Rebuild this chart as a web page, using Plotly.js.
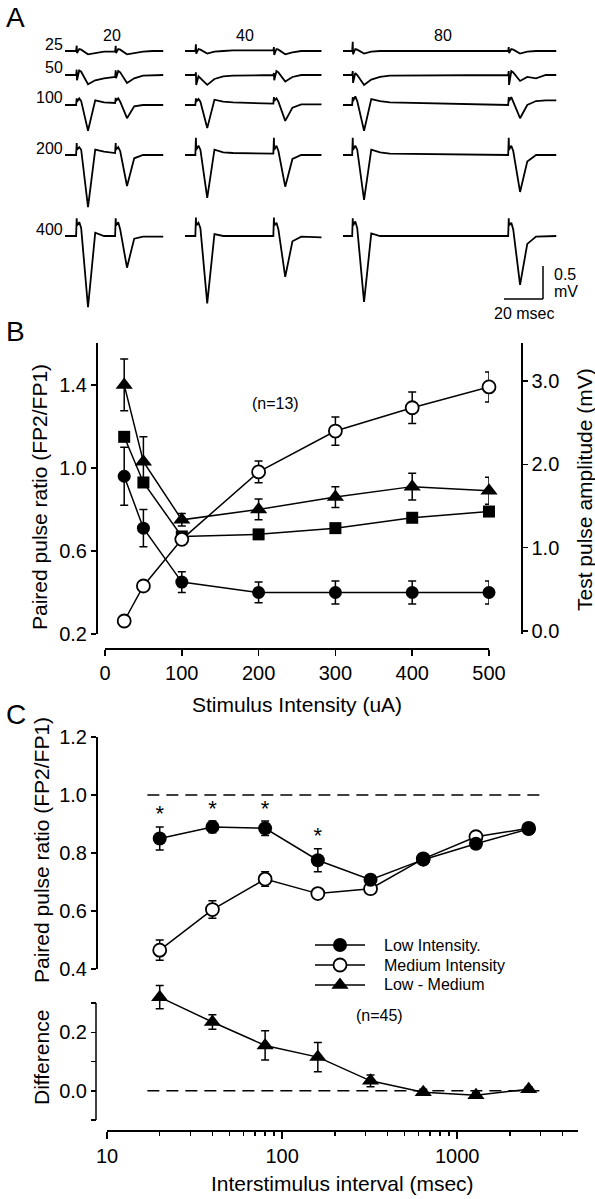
<!DOCTYPE html>
<html><head><meta charset="utf-8">
<script src="https://cdn.plot.ly/plotly-3.0.1.min.js"></script>
<style>html,body{margin:0;padding:0;background:#fff}</style>
</head><body><div id="chart" style="width:595px;height:1199px"></div>
<script>
// ---------- Panel A : field potential traces (mV) ----------
const A_intervals = [20, 40, 80];                 // ms between pulses
const A_intensities = ['25', '50', '100', '200', '400']; // uA
const A_pulseT = [-0.3, 0, 0.15, 1.3, 2.3, 5.8, 9.5, 14, 19]; // ms after each stimulus
// values: 9 for pulse 1, then 9 for pulse 2
const A20_25  = [0,0.08,-0.03,0.03,0.02,-0.05,-0.03,-0.01,-0.01, -0.01,0.08,-0.03,0.03,0.02,-0.05,-0.03,-0.01,0];
const A20_50  = [0,0.08,-0.08,0.07,0.05,-0.14,-0.08,-0.05,-0.03, -0.03,0.07,-0.05,0.06,0.04,-0.12,-0.05,-0.01,0];
const A20_100 = [0,0.10,0.05,0.10,0.06,-0.39,0.07,0.04,0.03, 0.03,0.11,0.06,0.10,0.05,-0.20,-0.02,0,0];
const A20_200 = [0,0.18,0.08,0.12,0.08,-0.79,0.08,0.05,0.03, 0.03,0.18,0.08,0.12,0.06,-0.47,-0.05,0,0];
const A20_400 = [0,0.27,0.16,0.21,0.12,-1.08,0.05,0,0, 0,0.27,0.16,0.21,0.10,-0.48,-0.04,-0.01,-0.01];
const A40_25  = [0,0.10,-0.04,0.03,0.02,-0.04,-0.01,0,0.01, 0.01,0.06,-0.06,0.03,0.02,-0.05,-0.02,0,0];
const A40_50  = [0,0.04,-0.15,-0.02,-0.05,-0.15,-0.06,-0.02,-0.01, 0,0.03,-0.08,0.06,0.04,-0.10,-0.03,0,0];
const A40_100 = [0,0.10,0.05,0.09,0.05,-0.35,0.08,0.05,0.04, 0.02,0.12,0.06,0.10,0.05,-0.24,-0.04,0.01,0.01];
const A40_200 = [0,0.26,0.08,0.14,0.08,-0.65,0.08,0.04,0.03, 0.02,0.26,0.08,0.14,0.06,-0.48,-0.06,0,0];
const A40_400 = [0,0.28,0.16,0.20,0.12,-1.02,0.03,0,0, 0,0.28,0.16,0.20,0.10,-0.62,-0.08,-0.01,-0.02];
const A80_25  = [0,0.14,-0.05,0.03,0.02,-0.04,-0.01,0,0, 0,0.06,-0.03,0.03,0.02,-0.04,-0.01,0,0];
const A80_50  = [0,0.06,-0.12,0.03,0,-0.15,-0.07,-0.03,-0.01, 0,0.06,-0.15,0.06,0.04,-0.09,-0.03,-0.05,0];
const A80_100 = [0,0.12,0.06,0.13,0.06,-0.39,0.09,0.06,0.04, 0,0.12,0.06,0.12,0.05,-0.20,0,0.06,0.07];
const A80_200 = [0,0.26,0.08,0.14,0.08,-0.68,0.08,0.04,0.02, 0,0.26,0.08,0.14,0.06,-0.56,-0.10,0,0];
const A80_400 = [0,0.27,0.16,0.22,0.12,-1.00,0.04,0,0, 0,0.27,0.16,0.20,0.10,-0.74,-0.12,-0.01,0];
const A_scaleMs = 20, A_scaleMv = 0.5;

// ---------- Panel B ----------
const B_intensity = [25, 50, 100, 200, 300, 400, 500];
const B_pprCircle = [0.96, 0.71, 0.45, 0.40, 0.40, 0.40, 0.40];
const B_pprCircleErr = [0.14, 0.09, 0.05, 0.05, 0.055, 0.055, 0.055];
const B_pprTriangle = [1.40, 1.03, 0.75, 0.80, 0.86, 0.91, 0.89];
const B_pprTriangleErr = [0.125, 0.12, 0.03, 0.05, 0.05, 0.065, 0.065];
const B_pprSquare = [1.15, 0.93, 0.67, 0.68, 0.71, 0.76, 0.79];
const B_ampOpen = [0.12, 0.54, 1.10, 1.91, 2.40, 2.68, 2.93];
const B_ampOpenErr = [0.02, 0.03, 0.06, 0.13, 0.17, 0.19, 0.18];

// ---------- Panel C ----------
const C_interval = [20, 40, 80, 160, 320, 640, 1280, 2560];
const C_low = [0.85, 0.89, 0.885, 0.775, 0.708, 0.777, 0.832, 0.883];
const C_lowErr = [0.04, 0.02, 0.025, 0.04, 0.012, 0.01, 0.01, 0.008];
const C_med = [0.465, 0.605, 0.71, 0.66, 0.677, 0.78, 0.856, 0.885];
const C_medErr = [0.035, 0.03, 0.025, 0.01, 0.012, 0.01, 0.01, 0.008];
const C_diff = [0.32, 0.235, 0.155, 0.115, 0.034, -0.005, -0.015, 0.005];
const C_diffErr = [0.04, 0.025, 0.05, 0.05, 0.02, 0.01, 0.01, 0.008];
const C_sig = [1, 1, 1, 1, 0, 0, 0, 0];
const C_legend = ['Low Intensity.', 'Medium Intensity', 'Low - Medium'];

// ---------- layout helpers ----------
const W = 595, H = 1199;
const FONT = 'Liberation Sans, Arial, Helvetica, sans-serif';
const fx = p => p / W, fy = p => 1 - p / H;
const traces = [];
const layout = {
  width: W, height: H, margin: {l:0, r:0, t:0, b:0},
  paper_bgcolor: '#fff', plot_bgcolor: 'rgba(0,0,0,0)',
  font: {family: FONT, color: '#000', size: 16},
  showlegend: false, annotations: [], shapes: []
};

// Panel A geometry
const A_tables = [[A20_25,A20_50,A20_100,A20_200,A20_400],[A40_25,A40_50,A40_100,A40_200,A40_400],[A80_25,A80_50,A80_100,A80_200,A80_400]];
const A_colStartPx = [65, 185, 343], A_colT0 = [-6, -5.6, -5], A_pxPerMs = 1.95;
const A_rowBasePx = [51, 75, 105, 155, 236], A_top = 25, A_bot = 322, A_pxPerMv = 66;
A_intervals.forEach((iv, c) => {
  const tEnd = iv + 24.5;
  const xa = 'xaxis' + (c ? c + 1 : '');
  layout[xa] = {visible: false, range: [A_colT0[c], tEnd],
    domain: [fx(A_colStartPx[c]), fx(A_colStartPx[c] + (tEnd - A_colT0[c]) * A_pxPerMs)], anchor: 'y'};
  A_intensities.forEach((lab, r) => {
    const vals = A_tables[c][r];
    const t = [A_colT0[c]], v = [0];
    for (let k = 0; k < 2; k++) A_pulseT.forEach((tt, j) => { t.push(tt + k * iv); v.push(vals[k * 9 + j]); });
    t.push(tEnd); v.push(vals[17]);
    traces.push({x: t, y: v, xaxis: 'x' + (c ? c + 1 : ''), yaxis: 'y' + (r ? r + 1 : ''),
      mode: 'lines', line: {color: '#000', width: 1.8}, hoverinfo: 'skip', cliponaxis: false});
  });
});
A_intensities.forEach((lab, r) => {
  const b = A_rowBasePx[r];
  layout['yaxis' + (r ? r + 1 : '')] = {visible: false, domain: [fy(A_bot), fy(A_top)],
    range: [-(A_bot - b) / A_pxPerMv, (b - A_top) / A_pxPerMv], anchor: 'x'};
});
const ann = (text, xp, yp, size, extra) => Object.assign({text, x: fx(xp), y: fy(yp), xref: 'paper', yref: 'paper',
  showarrow: false, font: {size, color: '#000', family: FONT}, xanchor: 'center', yanchor: 'middle'}, extra || {});
A_intensities.forEach((lab, r) => layout.annotations.push(ann(lab, 65, A_rowBasePx[r] - 7, 16, {xanchor: 'right'})));
const A_colLabelPx = [112, 245, 443];
A_intervals.forEach((iv, c) => layout.annotations.push(ann(String(iv), A_colLabelPx[c], 36, 16)));
// scale bar in col-3 / row-400 coordinates
const sbT = -5 + (543 - 343) / A_pxPerMs, sbV = (236 - 299) / A_pxPerMv;
layout.shapes.push({type: 'line', xref: 'x3', yref: 'y5', x0: sbT - A_scaleMs, x1: sbT, y0: sbV, y1: sbV, line: {color: '#000', width: 1.5}});
layout.shapes.push({type: 'line', xref: 'x3', yref: 'y5', x0: sbT, x1: sbT, y0: sbV, y1: sbV + A_scaleMv, line: {color: '#000', width: 1.5}});
layout.annotations.push(ann(String(A_scaleMv), 552, 275, 16, {xanchor: 'left'}));
layout.annotations.push(ann('mV', 552, 292, 16, {xanchor: 'left'}));
layout.annotations.push(ann(A_scaleMs + ' msec', 524, 314, 16));

// ---------- Panel B ----------
const axCommon = {showline: true, linecolor: '#000', linewidth: 1.5, ticks: 'outside', ticklen: 6, tickwidth: 1.5,
  tickcolor: '#000', showgrid: false, zeroline: false, tickfont: {size: 20, family: FONT, color: '#000'}};
layout.xaxis4 = Object.assign({}, axCommon, {domain: [fx(105), fx(489)], range: [0, 500], anchor: 'free', position: fy(648), tickvals: [0,100,200,300,400,500]});
layout.yaxis6 = Object.assign({}, axCommon, {domain: [fy(634), fy(343)], range: [0.2, 1.602], anchor: 'free', position: fx(96), tickvals: [0.2,0.6,1.0,1.4], tickformat: '.1f', ticklen: 5});
layout.yaxis7 = Object.assign({}, axCommon, {overlaying: 'y6', side: 'right', range: [-0.036, 3.457], anchor: 'free', position: fx(521), tickvals: [0,1,2,3], tickformat: '.1f', ticklen: 5});
const eb = arr => ({type: 'data', array: arr, visible: true, color: '#000', thickness: 1.5, width: 4});
const lineS = {color: '#000', width: 1.5};
const mkOpen = {symbol: 'circle', size: 13, color: '#fff', line: {color: '#000', width: 1.8}};
const mkFilled = {symbol: 'circle', size: 14, color: '#000'};
const mkTri = {symbol: 'triangle-up', size: 15, color: '#000'};
const mkSq = {symbol: 'square', size: 12, color: '#000'};
const base = {mode: 'lines+markers', line: lineS, hoverinfo: 'skip', cliponaxis: false};
traces.push(Object.assign({}, base, {x: B_intensity, y: B_ampOpen, xaxis: 'x4', yaxis: 'y7', error_y: eb(B_ampOpenErr), marker: mkOpen}));
traces.push(Object.assign({}, base, {x: B_intensity, y: B_pprSquare, xaxis: 'x4', yaxis: 'y6', marker: mkSq}));
traces.push(Object.assign({}, base, {x: B_intensity, y: B_pprTriangle, xaxis: 'x4', yaxis: 'y6', error_y: eb(B_pprTriangleErr), marker: mkTri}));
traces.push(Object.assign({}, base, {x: B_intensity, y: B_pprCircle, xaxis: 'x4', yaxis: 'y6', error_y: eb(B_pprCircleErr), marker: {symbol: 'circle', size: 13, color: '#000'}}));
layout.annotations.push(ann('(n=13)', 275, 403, 16));
layout.annotations.push(ann('Paired pulse ratio (FP2/FP1)', 40, 497, 21, {textangle: -90}));
layout.annotations.push(ann('Test pulse amplitude (mV)', 584, 490, 21, {textangle: -90}));
layout.annotations.push(ann('Stimulus Intensity (uA)', 297, 704, 21));

// ---------- Panel C ----------
layout.xaxis5 = Object.assign({}, axCommon, {type: 'log', domain: [fx(107), fx(578)], range: [1, 3.69], anchor: 'free', position: fy(1130),
  tickvals: [10, 100, 1000], ticktext: ['10', '100', '1000'], ticklen: 7,
  minor: {tickvals: [20,30,40,50,60,70,80,90,200,300,400,500,600,700,800,900,2000,3000,4000], ticks: 'outside', ticklen: 4, tickwidth: 1.5, tickcolor: '#000', showgrid: false}});
layout.yaxis8 = Object.assign({}, axCommon, {domain: [fy(969), fy(737)], range: [0.4, 1.2], anchor: 'free', position: fx(96), tickvals: [0.4,0.6,0.8,1.0,1.2], tickformat: '.1f', ticklen: 5});
// lower axis: range extends above 0.3 so the first triangle is not dropped; the visible spine stops at 0.3
const C_lowPxPerUnit = (1120 - 1003) / 0.4;
layout.yaxis9 = Object.assign({}, axCommon, {showline: false, domain: [fy(1120), fy(1120 - 0.5 * C_lowPxPerUnit)], range: [-0.1, 0.4], anchor: 'free', position: fx(96),
  tickvals: [-0.1, 0, 0.1, 0.2, 0.3], ticktext: ['', '0.0', '', '0.2', ''], ticklen: 5});
layout.shapes.push({type: 'line', xref: 'paper', yref: 'y9', x0: fx(96), x1: fx(96), y0: -0.1, y1: 0.3, line: {color: '#000', width: 1.5}});
const dashL = {color: '#000', width: 1.5, dash: '12px,7px'};
traces.push({x: [17, 3100], y: [1, 1], xaxis: 'x5', yaxis: 'y8', mode: 'lines', line: dashL, hoverinfo: 'skip'});
traces.push({x: [17, 3100], y: [0, 0], xaxis: 'x5', yaxis: 'y9', mode: 'lines', line: dashL, hoverinfo: 'skip'});
traces.push(Object.assign({}, base, {x: C_interval, y: C_med, xaxis: 'x5', yaxis: 'y8', error_y: eb(C_medErr), marker: mkOpen}));
traces.push(Object.assign({}, base, {x: C_interval, y: C_low, xaxis: 'x5', yaxis: 'y8', error_y: eb(C_lowErr), marker: mkFilled}));
traces.push(Object.assign({}, base, {x: C_interval, y: C_diff, xaxis: 'x5', yaxis: 'y9', error_y: eb(C_diffErr), marker: mkTri}));
const sx = [], sy = [];
C_interval.forEach((v, i) => { if (C_sig[i]) { sx.push(v); sy.push(C_low[i] + C_lowErr[i] + 0.0); } });
traces.push({x: sx, y: sy, xaxis: 'x5', yaxis: 'y8', mode: 'text', text: sx.map(() => '*'), textposition: 'top center',
  textfont: {size: 22, family: FONT, color: '#000'}, hoverinfo: 'skip', cliponaxis: false});

// hand-drawn legend for panel C on a pixel-space overlay axis
layout.xaxis6 = {visible: false, domain: [0, 1], range: [0, W], anchor: 'y10'};
layout.yaxis10 = {visible: false, domain: [0, 1], range: [H, 0], anchor: 'x6'};
const legMarks = [mkFilled, mkOpen, mkTri], legRowPx = [945, 965, 985];
C_legend.forEach((name, i) => {
  traces.push({x: [315, 365], y: [legRowPx[i], legRowPx[i]], xaxis: 'x6', yaxis: 'y10', mode: 'lines', line: lineS, hoverinfo: 'skip'});
  traces.push({x: [340], y: [legRowPx[i]], xaxis: 'x6', yaxis: 'y10', mode: 'markers', marker: legMarks[i], hoverinfo: 'skip'});
  layout.annotations.push(ann(name, 382, legRowPx[i], 16, {xanchor: 'left'}));
});
layout.annotations.push(ann('(n=45)', 380, 1015, 16));
layout.annotations.push(ann('Paired pulse ratio (FP2/FP1)', 41, 850, 21, {textangle: -90}));
layout.annotations.push(ann('Difference', 41, 1058, 21, {textangle: -90}));
layout.annotations.push(ann('Interstimulus interval (msec)', 342, 1183, 21));

// panel letters
layout.annotations.push(ann('A', 15, 17, 28));
layout.annotations.push(ann('B', 15, 331, 28));
layout.annotations.push(ann('C', 16, 714, 28));

Plotly.newPlot('chart', traces, layout, {staticPlot: true, displayModeBar: false});
</script></body></html>
